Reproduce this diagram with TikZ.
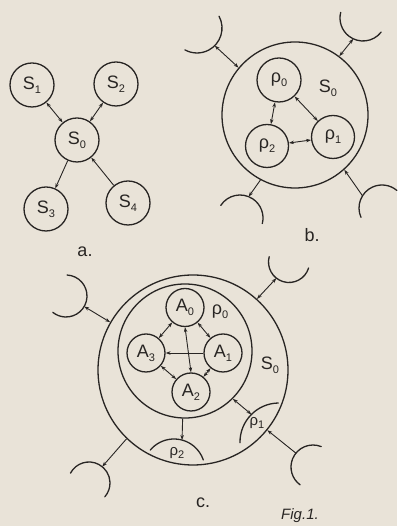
\documentclass[tikz,border=0pt]{standalone}
\usepackage{fontspec}
\setmainfont{Liberation Sans}
\usetikzlibrary{arrows.meta}
\definecolor{paper}{RGB}{233,227,216}
\definecolor{ink}{RGB}{40,37,35}
\newcommand\subtx[1]{\raisebox{-0.22em}{\fontsize{11}{11}\selectfont #1}}
\tikzset{
  st/.style={circle,draw=ink,line width=1.3pt,inner sep=0pt,text=ink,font=\fontsize{18}{18}\selectfont},
  ring/.style={circle,draw=ink,line width=1.3pt,inner sep=0pt},
  cupline/.style={draw=ink,line width=1.3pt,line cap=round},
  dbl/.style={draw=ink,line width=0.9pt,{Stealth[length=5pt,width=3.5pt]}-{Stealth[length=5pt,width=3.5pt]}},
  one/.style={draw=ink,line width=0.9pt,-{Stealth[length=5pt,width=3.5pt]}},
  lbl/.style={text=ink,inner sep=0pt,font=\fontsize{18}{18}\selectfont},
  slbl/.style={text=ink,inner sep=0pt,font=\fontsize{15}{15}\selectfont}
}
\begin{document}
\begin{tikzpicture}[x=1pt,y=1pt]
\fill[paper] (0,0) rectangle (397,526);
\path[use as bounding box] (0,0) rectangle (397,526);

% ---------- a ----------
\node[st,minimum size=44pt] (S1) at (32,441) {S\subtx{1}};
\node[st,minimum size=44pt] (S2) at (116,442) {S\subtx{2}};
\node[st,minimum size=44pt] (S0) at (77,386) {S\subtx{0}};
\node[st,minimum size=44pt] (S3) at (46,317) {S\subtx{3}};
\node[st,minimum size=44pt] (S4) at (128,323) {S\subtx{4}};
\draw[dbl] (S0) -- (S1);
\draw[dbl] (S0) -- (S2);
\draw[one] (S0) -- (S3);
\draw[one] (S4) -- (S0);
\node[lbl] (la) at (85,274) {a.};

% ---------- b ----------
\node[ring,minimum size=146pt] (bB) at (295,411) {};
\node[st,minimum size=44pt] (p0) at (279,446) {ρ\subtx{0}};
\node[st,minimum size=43pt] (p1) at (333,389) {ρ\subtx{1}};
\node[st,minimum size=43pt] (p2) at (267,380) {ρ\subtx{2}};
\node[lbl] (bS0) at (328,438) {S\subtx{0}};
\draw[dbl] (p0) -- (p2);
\draw[dbl] (p0) -- (p1);
\draw[dbl] (p1) -- (p2);
% cups
\draw[cupline] (197,498) ++(28:25) arc[start angle=28,end angle=-119,radius=25];
\path (197,498) ++(-45:25) coordinate (btl);
\draw[dbl] (btl) -- (bB.140);
\draw[cupline] (363,508) ++(-38:23) arc[start angle=-38,end angle=-194,radius=23];
\path (363,508) ++(-115:23) coordinate (btr);
\draw[dbl] (btr) -- (bB.53);
\draw[cupline] (240,308) ++(147:23) arc[start angle=147,end angle=-14,radius=23];
\path (240,308) ++(68:23) coordinate (bbl);
\draw[one] (bB.-118) -- (bbl);
\draw[cupline] (382,318) ++(204:23) arc[start angle=204,end angle=50,radius=23];
\path (382,318) ++(148:23) coordinate (bbr);
\draw[one] (bbr) -- (bB.-48);
\node[lbl] (lb) at (312,291) {b.};

% ---------- c ----------
\node[ring,minimum size=190pt] (co) at (193,156) {};
\node[ring,minimum size=134pt] (ci) at (185,175) {};
\node[st,minimum size=38pt] (A0) at (185,218.5) {A\subtx{0}};
\node[st,minimum size=38pt] (A1) at (223,173) {A\subtx{1}};
\node[st,minimum size=38pt] (A2) at (191,134) {A\subtx{2}};
\node[st,minimum size=38pt] (A3) at (146,173) {A\subtx{3}};
\node[lbl] (cr0) at (220,214) {ρ\subtx{0}};
\node[lbl] (cS0) at (270,161) {S\subtx{0}};
\draw[dbl] (A0) -- (A1);
\draw[dbl] (A0) -- (A3);
\draw[dbl] (A3) -- (A2);
\draw[dbl] (A2) -- (A1);
\draw[dbl] (A0.south) -- (A2.north);
\draw[one] (A1.west) -- (A3.east);
% inner segments
\draw[cupline] (279,84) ++(181:39) arc[start angle=181,end angle=91,radius=39];
\path (279,84) ++(135:39) coordinate (s1p);
\node[slbl] (r1) at (257,103) {ρ\subtx{1}};
\draw[dbl] (ci.-45) -- (s1p);
\draw[cupline] (174,56) ++(140:31) arc[start angle=140,end angle=19,radius=31];
\path (174,56) ++(75:31) coordinate (s2p);
\node[slbl] (r2) at (177,73) {ρ\subtx{2}};
\draw[one] (ci.-92) -- (s2p);
% outer cups
\draw[cupline] (66,230) ++(87:21) arc[start angle=87,end angle=-129,radius=21];
\path (66,230) ++(-30:21) coordinate (ctl);
\draw[dbl] (ctl) -- (co.150);
\draw[cupline] (289,264) ++(-17:20.5) arc[start angle=-17,end angle=-195,radius=20.5];
\path (289,264) ++(-128:20.5) coordinate (ctr);
\draw[dbl] (ctr) -- (co.48);
\draw[cupline] (89,43) ++(152:21) arc[start angle=152,end angle=-41,radius=21];
\path (89,43) ++(51:21) coordinate (cbl);
\draw[one] (co.-134) -- (cbl);
\draw[cupline] (313,59) ++(68:22) arc[start angle=68,end angle=234,radius=22];
\path (313,59) ++(141:22) coordinate (cbr);
\draw[one] (cbr) -- (co.-39);
\node[lbl] (lc) at (203,23) {c.};
\node[slbl,font=\fontsize{15}{15}\selectfont\itshape] (fig) at (300,10) {Fig.1.};
\end{tikzpicture}
\end{document}
